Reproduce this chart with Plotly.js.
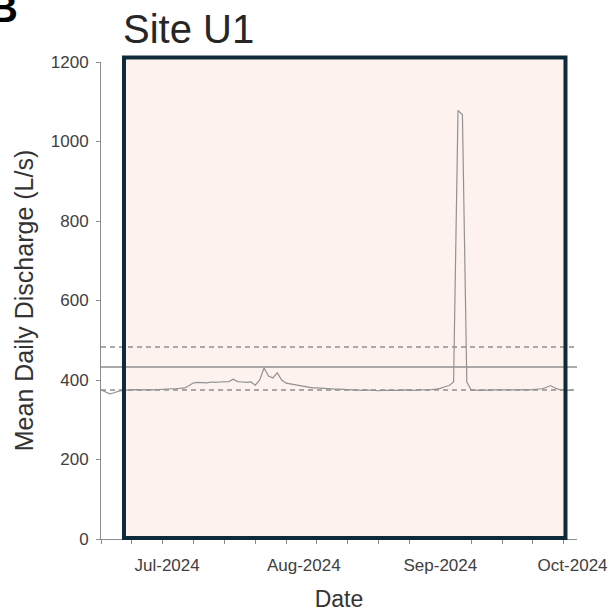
<!DOCTYPE html>
<html>
<head>
<meta charset="utf-8">
<script src="https://cdn.plot.ly/plotly-3.0.1.min.js"></script>
<style>html,body{margin:0;padding:0;background:#fff;}#chart{width:615px;height:612px;}</style>
</head>
<body>
<div id="chart"></div>
<script>
// Daily dates (16 Jun 2024 – 1 Oct 2024)
const startDate = '2024-06-16';
const dischargeValues = [
  375, 370, 365, 368, 372, 374, 375, 375, 376, 375, // Jun 16-25
  376, 376, 375, 376, 377, 377, 378, 378, 379, 380, // Jun 26 - Jul 5
  386, 393, 394, 394, 393, 395, 394, 395, 395, 396, // Jul 6-15
  402, 396, 395, 394, 395, 387, 400, 430, 410, 405, // Jul 16-25
  418, 400, 392, 390, 388, 385, 383, 382, 380, 380, // Jul 26 - Aug 4
  379, 378, 378, 377, 377, 376, 376, 375, 375, 374, // Aug 5-14
  375, 374, 374, 373, 374, 374, 373, 374, 374, 375, // Aug 15-24
  374, 374, 375, 375, 376, 376, 377, 379, 383, 386, // Aug 25 - Sep 3
  395, 1078, 1068, 395, 375, 374, 374, 375, 374, 375, // Sep 4-13
  375, 374, 375, 375, 374, 375, 376, 375, 376, 377, // Sep 14-23
  378, 381, 386, 380, 376, 375, 374, 375           // Sep 24 - Oct 1
];
const refLineValues = [483, 433, 375];
const refLineDash = ['5px,4px', 'solid', '5px,4px'];
const monthTickFormat = '%b-%Y';

const dates = dischargeValues.map((v, i) => {
  const d = new Date(startDate + 'T00:00:00Z');
  d.setUTCDate(d.getUTCDate() + i);
  return d.toISOString().slice(0, 10);
});

const FONT = 'Liberation Sans, Arial, Helvetica, sans-serif';
const AXIS = '#8c8c8c';

const shapes = [
  {type: 'rect', xref: 'paper', yref: 'paper', x0: 0.0483, x1: 0.9758, y0: 0.0021, y1: 1.0094,
   fillcolor: '#fdf2ee', line: {width: 0}, layer: 'below'}
];
refLineValues.forEach((v, i) => {
  shapes.push({type: 'line', xref: 'paper', yref: 'y', x0: 0, x1: 1, y0: v, y1: v, layer: 'below',
    line: {color: '#8f8f8f', width: 1.5, dash: refLineDash[i]}});
});
shapes.push({type: 'rect', xref: 'paper', yref: 'paper', x0: 0.0483, x1: 0.9758, y0: 0.0021, y1: 1.0094,
  fillcolor: 'rgba(0,0,0,0)', line: {color: '#0f2a3b', width: 4}, layer: 'above'});

const trace = {
  x: dates, y: dischargeValues, type: 'scatter', mode: 'lines',
  line: {color: '#929292', width: 1.2}, hoverinfo: 'skip', showlegend: false
};

const layout = {
  width: 615, height: 612,
  margin: {l: 101, r: 38, t: 62, b: 73},
  paper_bgcolor: '#ffffff', plot_bgcolor: 'rgba(0,0,0,0)',
  font: {family: FONT, color: '#404040'},
  showlegend: false,
  title: {text: 'Site U1', x: 123/615, xref: 'container', xanchor: 'left',
          y: 1 - 29/612, yref: 'container', yanchor: 'middle',
          font: {family: FONT, size: 40, color: '#262626'}},
  xaxis: {
    type: 'date', range: ['2024-06-16', '2024-10-02'],
    showline: true, linecolor: AXIS, linewidth: 1, showgrid: false, zeroline: false,
    ticks: '', dtick: 'M1', tick0: '2024-07-01', tickformat: monthTickFormat,
    ticklabelstandoff: 11,
    tickfont: {family: FONT, size: 17, color: '#404040'},
    minor: {dtick: 7 * 86400000, tick0: '2024-06-16', ticks: 'outside', ticklen: 4, tickcolor: AXIS, showgrid: false},
    title: {text: 'Date', standoff: 18, font: {family: FONT, size: 23, color: '#333333'}},
    automargin: false
  },
  yaxis: {
    range: [0, 1200], dtick: 200, tick0: 0,
    showline: true, linecolor: AXIS, linewidth: 1, showgrid: false, zeroline: false,
    ticks: 'outside', ticklen: 4, tickcolor: AXIS, ticklabelstandoff: 4,
    tickfont: {family: FONT, size: 17, color: '#404040'},
    title: {text: 'Mean Daily Discharge (L/s)', standoff: 10, font: {family: FONT, size: 25, color: '#333333'}},
    automargin: false
  },
  shapes: shapes,
  annotations: [
    {text: '<b>B</b>', xref: 'paper', yref: 'paper', x: -0.170, y: 1.063,
     xanchor: 'right', yanchor: 'bottom', showarrow: false,
     font: {family: FONT, size: 40, color: '#000000'}}
  ]
};

Plotly.newPlot('chart', [trace], layout, {displayModeBar: false, staticPlot: true});
</script>
</body>
</html>
